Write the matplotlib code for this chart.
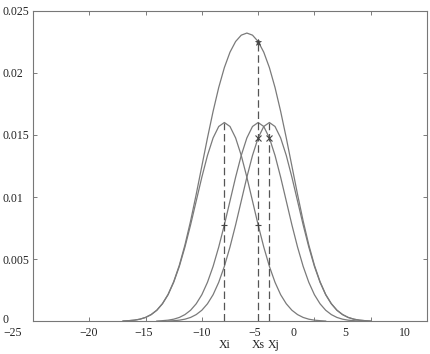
import matplotlib
matplotlib.use('Agg')
import matplotlib.pyplot as plt
from matplotlib.transforms import ScaledTranslation
import numpy as np

plt.rcParams['font.family'] = ['Liberation Serif', 'DejaVu Serif']

# shape of one small bump (offset from peak, height)
bump_dx = [-9, -8.5, -8, -7.5, -7, -6.5, -6, -5.5, -5, -4.5, -4, -3.5, -3, -2.5, -2, -1.5, -1, -0.5,
           0, 0.5, 1, 1.5, 2, 2.5, 3, 3.5, 4, 4.5, 5, 5.5, 6, 6.5, 7, 7.5, 8, 8.5, 9]
bump_y = [0.02, 0.05, 0.09, 0.17, 0.31, 0.54, 0.89, 1.41, 2.14, 3.14, 4.42, 5.98, 7.76, 9.68, 11.60, 13.35, 14.76, 15.68,
          16.00, 15.68, 14.76, 13.35, 11.60, 9.68, 7.76, 5.98, 4.42, 3.14, 2.14, 1.41, 0.89, 0.54, 0.31, 0.17, 0.09, 0.05, 0.02]
centers = [-8, -5, -4]  # Xi, Xs, Xj

# outer (combined) curve
big_x = [-17, -16.5, -16, -15.5, -15, -14.5, -14, -13.5, -13, -12.5, -12, -11.5, -11, -10.5, -10, -9.5, -9, -8.5,
         -8, -7.5, -7, -6.5, -6, -5.5, -5, -4.5, -4, -3.5, -3, -2.5, -2, -1.5, -1, -0.5,
         0, 0.5, 1, 1.5, 2, 2.5, 3, 3.5, 4, 4.5, 5]
big_y = [0.02, 0.05, 0.09, 0.17, 0.31, 0.54, 0.89, 1.42, 2.16, 3.19, 4.51, 6.15, 8.07, 10.22, 12.49, 14.76, 16.90, 18.82,
         20.42, 21.66, 22.52, 23.03, 23.20, 23.03, 22.52, 21.66, 20.42, 18.82, 16.90, 14.76, 12.49, 10.22, 8.07, 6.15,
         4.51, 3.19, 2.16, 1.42, 0.89, 0.54, 0.31, 0.17, 0.09, 0.05, 0.02]

# dashed markers: x position and top height
dash_x = [-8, -5, -4]
dash_top = [16.00, 22.52, 16.00]
plus_x = [-8, -5]
plus_y = [7.76, 7.76]
cross_x = [-5, -4]
cross_y = [14.77, 14.77]
star_x = [-5]
star_y = [22.52]

xticks = [-25, -20, -15, -10, -5, 0, 5, 10]
yticks = [0, 0.005, 0.01, 0.015, 0.02, 0.025]
ytick_labels = ['0', '0.005', '0.01', '0.015', '0.02', '0.025']

sc = 1e-3
curve_col = '#7a7a7a'

fig = plt.figure(figsize=(4.30, 3.54), dpi=100)
ax = fig.add_axes([0.0767, 0.0924, 0.9163, 0.8774])

for c in centers:
    ax.plot(np.array(bump_dx) + c, np.array(bump_y) * sc, color=curve_col, lw=0.9)
ax.plot(big_x, np.array(big_y) * sc, color=curve_col, lw=0.9)

for x, top in zip(dash_x, dash_top):
    ax.plot([x, x], [0, top * sc], color='#555555', lw=0.9, dashes=(6, 3))

ax.plot(plus_x, np.array(plus_y) * sc, ls='none', marker='+', ms=5, mew=0.8, color='#444444')
ax.plot(cross_x, np.array(cross_y) * sc, ls='none', marker='x', ms=4, mew=0.8, color='#444444')
ax.plot(star_x, np.array(star_y) * sc, ls='none', marker='*', ms=5, mew=0.5, color='#444444')

ax.set_xlim(-25, 10)
ax.set_ylim(0, 0.025)
ax.set_xticks(xticks)
ax.set_xticklabels(['\u2212' + str(-t) if t < 0 else str(t) for t in xticks])
ax.set_yticks(yticks)
ax.set_yticklabels(ytick_labels, ha='left')
ax.tick_params(direction='in', length=3, width=0.6, color='#666666', top=True, right=True,
               labelsize=8.5, colors='#222222')
ax.tick_params(axis='x', pad=4)
ax.tick_params(axis='y', pad=21.6)
for s in ax.spines.values():
    s.set_color('#777777')
    s.set_linewidth(0.8)

# the x labels in the source sit a little off their ticks
shift_px = [-20, -1, -2, 0, -3, -21, -25, -22]
for lab, dx in zip(ax.get_xticklabels(), shift_px):
    lab.set_transform(lab.get_transform() + ScaledTranslation(dx / 100, 0, fig.dpi_scale_trans))
# the "0" on the y axis sits slightly above the bottom
lab0 = ax.get_yticklabels()[0]
lab0.set_transform(lab0.get_transform() + ScaledTranslation(0, 3 / 100, fig.dpi_scale_trans))

trans = ax.get_xaxis_transform()
ax.text(-8, -0.075, 'Xi', transform=trans, ha='center', va='center', fontsize=8.5, color='#222222')
ax.text(-5, -0.075, 'Xs', transform=trans, ha='center', va='center', fontsize=8.5, color='#222222')
ax.text(-3.6, -0.075, 'Xj', transform=trans, ha='center', va='center', fontsize=8.5, color='#222222')

fig.savefig('out.png', dpi=100)
